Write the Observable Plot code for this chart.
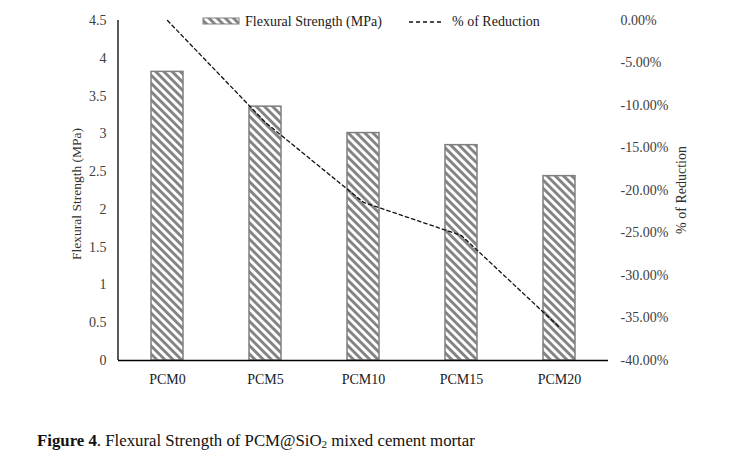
<!DOCTYPE html>
<html>
<head>
<meta charset="utf-8">
<script src="https://cdn.jsdelivr.net/npm/d3@7"></script>
<script src="https://cdn.jsdelivr.net/npm/@observablehq/plot@0.6"></script>
<style>
  html, body { margin: 0; padding: 0; background: #fff; }
  #chart { width: 731px; }
  #caption { font-family: "Liberation Serif", "Times New Roman", serif; font-size: 16.8px; color: #111; margin: 13px 0 0 37px; }
</style>
</head>
<body>
<div id="chart"></div>
<div id="caption"><b>Figure 4</b>. Flexural Strength of PCM@SiO<sub style="font-size:11px;vertical-align:-2px">2</sub> mixed cement mortar</div>
<script>
const categories = ["PCM0", "PCM5", "PCM10", "PCM15", "PCM20"];
const strength = [3.82, 3.36, 3.01, 2.85, 2.44];
const reduction = [0, -12.0, -21.4, -25.3, -36.1];
const leftTicks = [0, 0.5, 1, 1.5, 2, 2.5, 3, 3.5, 4, 4.5];
const rightTicks = [0, -5, -10, -15, -20, -25, -30, -35, -40];

const yMax = 4.5, rMin = -40;
const toY = r => (r - rMin) / (0 - rMin) * yMax;
const fromY = y => y / yMax * (0 - rMin) + rMin;

const bars = categories.map((c, i) => ({cat: c, v: strength[i]}));
const line = categories.map((c, i) => ({cat: c, r: reduction[i]}));

const font = '"Liberation Serif", "Times New Roman", serif';

const plot = Plot.plot({
  width: 731,
  height: 418,
  marginLeft: 118,
  marginRight: 123,
  marginTop: 20,
  marginBottom: 58,
  style: {fontFamily: font, fontSize: "14px", color: "#404040", background: "#fff"},
  x: {domain: categories, paddingInner: 0.67, paddingOuter: 0.335, label: null},
  y: {domain: [0, yMax], label: null},
  marks: [
    Plot.barY(bars, {x: "cat", y: "v", fill: "url(#hatch)", stroke: "#7f7f7f", strokeWidth: 1.5}),
    Plot.line(line, {x: "cat", y: d => toY(d.r), stroke: "#111", strokeWidth: 1.3, strokeDasharray: "3.5,3"}),
    Plot.axisY({ticks: leftTicks, tickSize: 0, tickPadding: 12, label: null, tickFormat: d => String(d), fill: "#404040"}),
    Plot.axisY({anchor: "right", ticks: rightTicks.map(toY), tickSize: 0, tickPadding: 12, label: null,
      tickFormat: y => fromY(y).toFixed(2) + "%", fill: "#404040"}),
    Plot.axisX({tickSize: 0, tickPadding: 14, label: null, fill: "#202020"}),
    Plot.ruleY([0], {stroke: "#000", strokeWidth: 1.5})
  ]
});

const svg = d3.select(plot);
const defs = svg.insert("defs", ":first-child");
const P = 5.8;
const pat = defs.append("pattern").attr("id", "hatch").attr("patternUnits", "userSpaceOnUse")
  .attr("width", P).attr("height", P).attr("patternTransform", "rotate(-45)");
pat.append("rect").attr("width", P).attr("height", P).attr("fill", "#fff");
pat.append("line").attr("x1", 1.5).attr("y1", 0).attr("x2", 1.5).attr("y2", P)
  .attr("stroke", "#828282").attr("stroke-width", 2.9);

// left axis line
svg.append("line").attr("x1", 118).attr("x2", 118).attr("y1", 20).attr("y2", 360).attr("stroke", "#000").attr("stroke-width", 1.3);

// axis titles
svg.append("text").attr("transform", "translate(81,194) rotate(-90)").attr("text-anchor", "middle")
  .attr("font-family", font).attr("font-size", 13.5).attr("fill", "#303030").text("Flexural Strength (MPa)");
svg.append("text").attr("transform", "translate(686,190) rotate(-90)").attr("text-anchor", "middle")
  .attr("font-family", font).attr("font-size", 14).attr("fill", "#303030").text("% of Reduction");

// legend
const lg = svg.append("g").attr("font-family", font).attr("font-size", 14).attr("fill", "#202020").attr("text-anchor", "start");
lg.append("rect").attr("x", 203).attr("y", 18).attr("width", 36).attr("height", 6).attr("fill", "url(#hatch)").attr("stroke", "#7f7f7f");
lg.append("text").attr("x", 245).attr("y", 26).text("Flexural Strength (MPa)");
lg.append("line").attr("x1", 409).attr("x2", 444).attr("y1", 22).attr("y2", 22).attr("stroke", "#111").attr("stroke-dasharray", "4,3").attr("stroke-width", 1.3);
lg.append("text").attr("x", 452).attr("y", 26).text("% of Reduction");

document.getElementById("chart").appendChild(plot);
</script>
</body>
</html>
